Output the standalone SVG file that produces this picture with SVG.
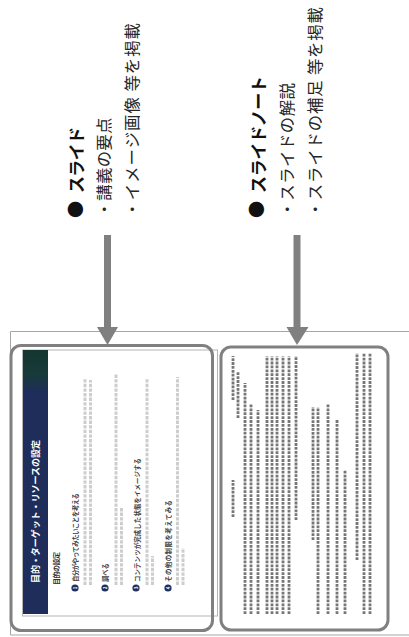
<svg xmlns="http://www.w3.org/2000/svg" width="409" height="637" viewBox="0 0 409 637">
<defs>
<style>
.t{font-family:"Noto Sans CJK JP","Noto Sans CJK SC",sans-serif;dominant-baseline:central}
.main{font-size:16.4px;fill:#262626}
.head{font-size:17px;font-weight:700;fill:#111}
.sh{font-size:9px;font-weight:700;fill:#fff}
.sub{font-size:7px;font-weight:700;fill:#333}
.it{font-size:6.4px;font-weight:700;fill:#444}
.num{font-size:4.5px;font-weight:700;fill:#fff}
.frame{fill:none;stroke:#a6a6a6;stroke-width:1}
.box{fill:none;stroke:#808080;stroke-width:3}
.body{fill:none;stroke:#cdcdcd;stroke-width:3;stroke-dasharray:3.4 1.2}
.note{fill:none;stroke:#3c3c3c;stroke-width:2.8;stroke-dasharray:2.8 1.1;opacity:.7}
.arrow{stroke:#808080;stroke-width:7}
.head-fill{fill:#808080}
</style>
<linearGradient id="band" gradientUnits="userSpaceOnUse" x1="0" y1="350" x2="0" y2="392">
<stop offset="0" stop-color="#143630"/>
<stop offset="0.6" stop-color="#183a3a"/>
<stop offset="1" stop-color="#1f2d5a"/>
</linearGradient>
</defs>
<rect width="409" height="637" fill="#fff"/>

<g id="frame">
<path class="frame" d="M409,331.5 H10.5 V635 H409"/>
</g>

<g id="label-slide">
<text class="t head" transform="translate(74,209.5) rotate(-90)" text-anchor="middle">●</text>
<text class="t head" transform="translate(75,193) rotate(-90)" textLength="66" lengthAdjust="spacing">スライド</text>
<text class="t main" transform="translate(103,217.5) rotate(-90)" textLength="100" lengthAdjust="spacing">・講義の要点</text>
<text class="t main" transform="translate(131,217.5) rotate(-90)" textLength="194.5" lengthAdjust="spacing">・イメージ画像 等を掲載</text>
</g>

<g id="label-notes">
<text class="t head" transform="translate(255.5,209.5) rotate(-90)" text-anchor="middle">●</text>
<text class="t head" transform="translate(257,193) rotate(-90)" textLength="117" lengthAdjust="spacing">スライドノート</text>
<text class="t main" transform="translate(285.5,217.5) rotate(-90)" textLength="134.5" lengthAdjust="spacing">・スライドの解説</text>
<text class="t main" transform="translate(313.5,217.5) rotate(-90)" textLength="210.5" lengthAdjust="spacing">・スライドの補足 等を掲載</text>
</g>

<g id="node-slide">
<rect x="22.5" y="350" width="195" height="266" fill="#fff" stroke="#b5b5b5" stroke-width="1"/>
<rect x="23" y="350" width="25" height="264" fill="url(#band)"/>
<text class="t sh" transform="translate(35.5,583) rotate(-90)" textLength="143" lengthAdjust="spacing">目的・ターゲット・リソースの設定</text>
<text class="t sub" transform="translate(56,585) rotate(-90)" textLength="33" lengthAdjust="spacing">目的の設定</text>
<g fill="#1f2e5c">
<circle cx="75" cy="588" r="3.6"/>
<circle cx="105" cy="588" r="3.6"/>
<circle cx="136" cy="588" r="3.6"/>
<circle cx="168" cy="588" r="3.6"/>
</g>
<text class="t num" transform="translate(75,588) rotate(-90)" text-anchor="middle">1</text>
<text class="t num" transform="translate(105,588) rotate(-90)" text-anchor="middle">2</text>
<text class="t num" transform="translate(136,588) rotate(-90)" text-anchor="middle">3</text>
<text class="t num" transform="translate(168,588) rotate(-90)" text-anchor="middle">4</text>
<text class="t it" transform="translate(75,582) rotate(-90)" textLength="89" lengthAdjust="spacing">自分がやってみたいことを考える</text>
<text class="t it" transform="translate(105,582) rotate(-90)" textLength="19" lengthAdjust="spacing">調べる</text>
<text class="t it" transform="translate(137,582) rotate(-90)" textLength="124" lengthAdjust="spacing">コンテンツが完成した状態をイメージする</text>
<text class="t it" transform="translate(168,582) rotate(-90)" textLength="82" lengthAdjust="spacing">その他の制限を考えてみる</text>
<path class="body" d="M85,585 V378 M90.5,585 V380 M116,585 V374 M121.5,585 V508 M147,585 V378 M152.5,585 V556 M177.5,585 V377 M183,585 V548"/>
<rect class="box" x="11" y="345.5" width="201.5" height="285" rx="10"/>
</g>

<g id="node-notes">
<rect x="221" y="347" width="167" height="283" rx="10" fill="#fff"/>
<path class="note" d="M233,400 V356 M233,517 V480 M238,418 V372 M245,614 V383 M251,614 V404 M258,614 V410 M267,614 V356 M272,614 V356 M277,614 V356 M283,614 V356 M289,614 V356 M296,520 V356 M313,540 V407 M318,614 V407 M328,614 V404 M337,614 V420 M345,614 V470 M357,560 V353 M364,614 V353 M370,614 V353"/>
<rect class="box" x="221" y="347" width="167" height="283" rx="10"/>
</g>

<g id="connectors">
<line class="arrow" x1="107.5" y1="235" x2="107.5" y2="328"/>
<polygon class="head-fill" points="97,327 118,327 107.5,345"/>
<line class="arrow" x1="297" y1="235" x2="297" y2="328"/>
<polygon class="head-fill" points="286.5,327 308.5,327 297,345"/>
</g>
</svg>
